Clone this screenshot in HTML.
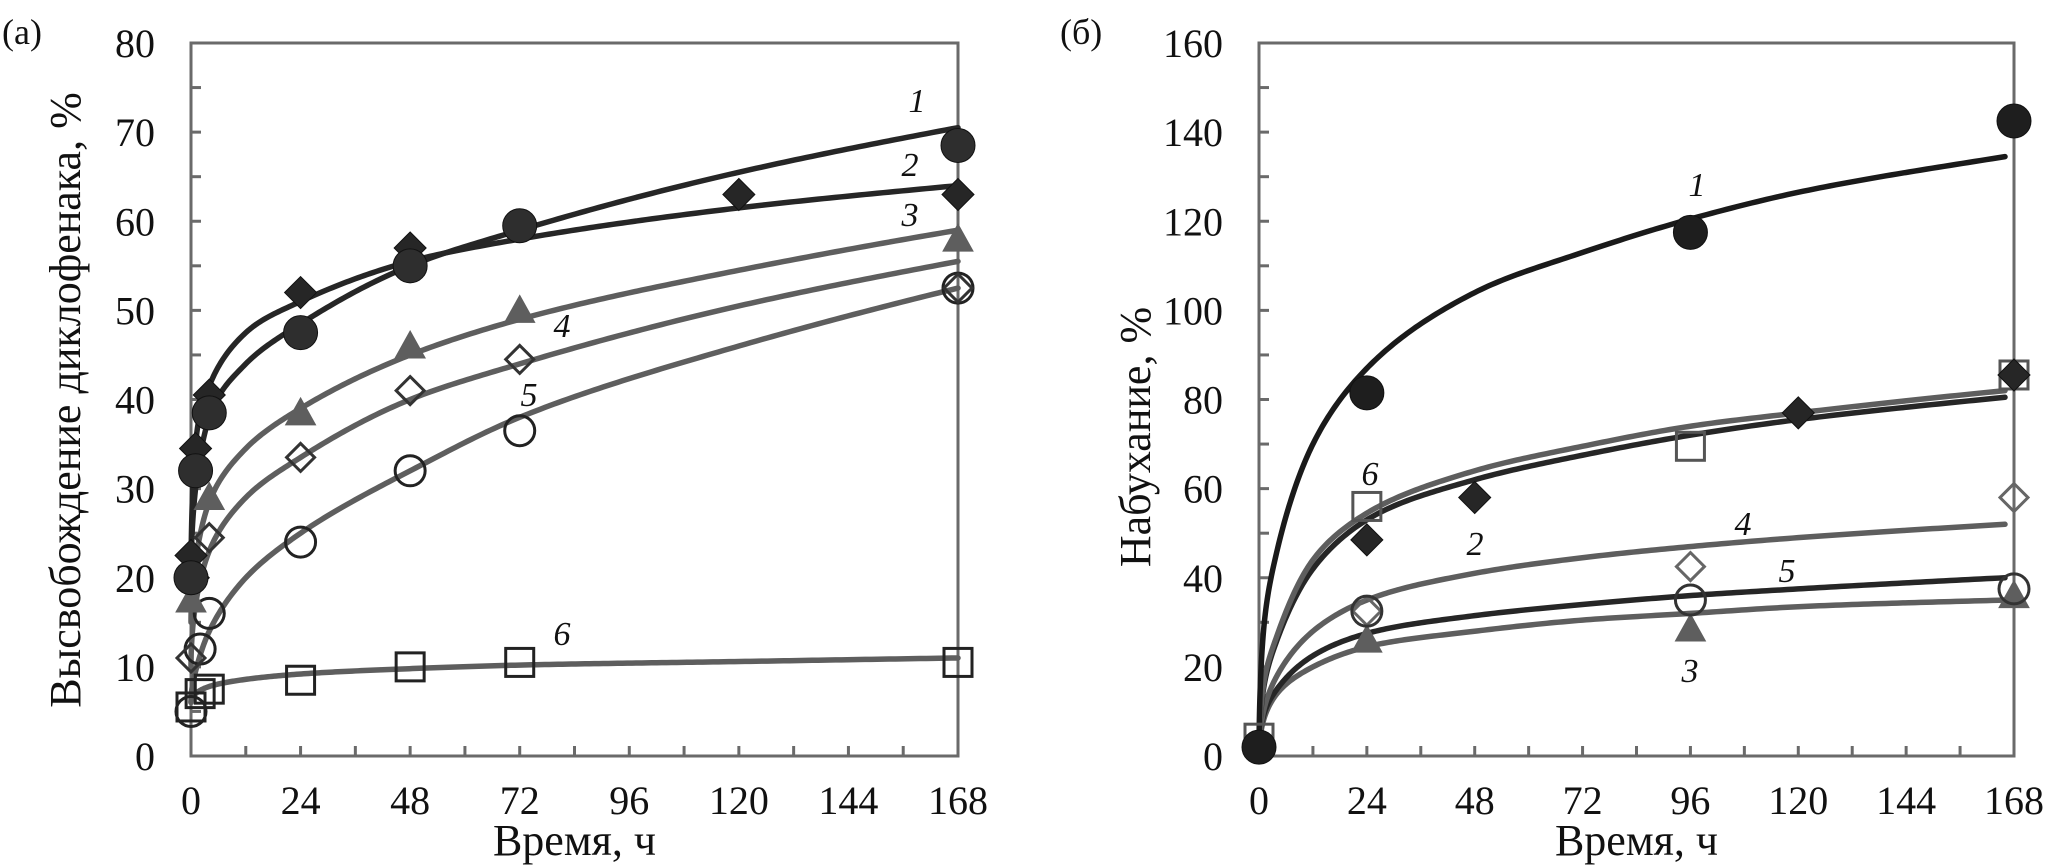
<!DOCTYPE html>
<html><head><meta charset="utf-8">
<style>
html,body{margin:0;padding:0;background:#fff;}
svg{display:block;font-family:"Liberation Serif","Times New Roman","DejaVu Serif",serif;}
text{font-family:"Liberation Serif","Times New Roman","DejaVu Serif",serif;}
</style></head>
<body>
<svg id="chart" width="2067" height="867" viewBox="0 0 2067 867" xmlns="http://www.w3.org/2000/svg"></svg>
<script>
// ---- Panel (a) data: release of diclofenac, % ----
const hoursA1 = [0, 1, 4, 24, 48, 72, 168];
const valuesA1 = [20, 32, 38.5, 47.5, 55, 59.5, 68.5];
const hoursA2 = [0, 0.5, 1, 4, 24, 48, 72, 120, 168];
const valuesA2 = [22.5, 20, 34.5, 40.5, 52, 57, 59.5, 63, 63];
const hoursA3 = [0, 4, 24, 48, 72, 168];
const valuesA3 = [17.5, 29, 38.5, 46, 50, 58];
const hoursA4 = [0, 4, 24, 48, 72, 168];
const valuesA4 = [11, 24.5, 33.5, 41, 44.5, 52.5];
const hoursA5 = [0, 2, 4, 24, 48, 72, 168];
const valuesA5 = [5, 12, 16, 24, 32, 36.5, 52.5];
const hoursA6 = [0, 2, 4, 24, 48, 72, 168];
const valuesA6 = [5.5, 7, 7.5, 8.5, 10, 10.5, 10.5];
// fitted curves (a)
const fitHoursA = [0, 1, 4, 12, 24, 48, 72, 120, 168];
const fitA1 = [20, 30, 38, 44, 48.5, 55, 59, 65.5, 70.5];
const fitA2 = [20, 35, 41.5, 47.5, 51, 55.5, 58, 61.5, 64];
const fitA3 = [15, 22, 28.5, 34.5, 39, 45, 49, 54.5, 59];
const fitA4 = [10, 17, 23, 29, 33.5, 40, 44, 50.5, 55.5];
const fitA5 = [6, 9.5, 14, 20, 25, 32, 38, 46, 52.5];
const fitA6 = [6, 7, 7.8, 8.6, 9.2, 9.8, 10.2, 10.6, 11];
// ---- Panel (b) data: swelling, % ----
const hoursB1 = [0, 24, 96, 168];
const valuesB1 = [2, 81.5, 117.5, 142.5];
const hoursB2 = [24, 48, 120, 168];
const valuesB2 = [48.5, 58, 77, 85.5];
const hoursB3 = [24, 96, 168];
const valuesB3 = [26, 28.5, 36];
const hoursB4 = [24, 96, 168];
const valuesB4 = [32.5, 42.5, 58];
const hoursB5 = [24, 96, 168];
const valuesB5 = [32.5, 35, 37.5];
const hoursB6 = [0, 24, 96, 168];
const valuesB6 = [4, 56, 69.5, 85.5];
const fitHoursB = [0, 1, 4, 12, 24, 48, 72, 96, 120, 166];
const fitB1 = [0, 28, 46, 70, 87, 104, 113, 120.5, 126.5, 134.5];
const fitB2 = [0, 15, 26, 42, 53, 62, 67.5, 72, 75.5, 80.5];
const fitB3 = [0, 8, 14, 20, 24.5, 28, 30.5, 32, 33.5, 35];
const fitB4 = [0, 10, 18, 28, 35, 41, 44.5, 47, 49, 52];
const fitB5 = [0, 9, 15, 22.5, 27.5, 31.5, 34, 36, 37.5, 40];
const fitB6 = [0, 16, 27, 44, 54.5, 64, 69.5, 74, 77, 82];
const xTickLabels = ["0", "24", "48", "72", "96", "120", "144", "168"];
const yTickLabelsA = ["0", "10", "20", "30", "40", "50", "60", "70", "80"];
const yTickLabelsB = ["0", "20", "40", "60", "80", "100", "120", "140", "160"];

const NS = "http://www.w3.org/2000/svg";
const svg = document.getElementById("chart");
const FONT = '"Liberation Serif", "Times New Roman", "DejaVu Serif", serif';
function mk(tag, attrs, parent) {
  const e = document.createElementNS(NS, tag);
  for (const k in attrs) e.setAttribute(k, attrs[k]);
  if (tag === "text") e.setAttribute("font-family", FONT);
  (parent || svg).appendChild(e);
  return e;
}
const DARK = "#262626", GRAY = "#5e5e5e", FRAME = "#6a6a6a";

function monotone(xs, ys) {
  const n = xs.length, d = [], m = new Array(n);
  for (let i = 0; i < n - 1; i++) d.push((ys[i + 1] - ys[i]) / (xs[i + 1] - xs[i]));
  m[0] = d[0]; m[n - 1] = d[n - 2];
  for (let i = 1; i < n - 1; i++) m[i] = (d[i - 1] * d[i] <= 0) ? 0 : (d[i - 1] + d[i]) / 2;
  for (let i = 0; i < n - 1; i++) {
    if (d[i] === 0) { m[i] = 0; m[i + 1] = 0; continue; }
    const a = m[i] / d[i], b = m[i + 1] / d[i], s = a * a + b * b;
    if (s > 9) { const t = 3 / Math.sqrt(s); m[i] = t * a * d[i]; m[i + 1] = t * b * d[i]; }
  }
  return function (x) {
    let i = 0;
    while (i < n - 2 && x > xs[i + 1]) i++;
    const h = xs[i + 1] - xs[i], t = (x - xs[i]) / h;
    const h00 = 2 * t * t * t - 3 * t * t + 1, h10 = t * t * t - 2 * t * t + t, h01 = -2 * t * t * t + 3 * t * t, h11 = t * t * t - t * t;
    return h00 * ys[i] + h10 * h * m[i] + h01 * ys[i + 1] + h11 * h * m[i + 1];
  };
}

function makePanel(cfg) {
  const g = mk("g", {});
  
  
  const xs = h => cfg.x0 + (cfg.x1 - cfg.x0) * h / 168;
  const ys = v => cfg.y0 - (cfg.y0 - cfg.y1) * v / cfg.ymax;
  const fr = mk("rect", {x: cfg.x0, y: cfg.y1, width: cfg.x1 - cfg.x0, height: cfg.y0 - cfg.y1, fill: "none", stroke: FRAME, "stroke-width": 3}, g);
  
  
  for (let h = 12; h < 168; h += 12) {
    mk("line", {x1: xs(h), x2: xs(h), y1: cfg.y0, y2: cfg.y0 - 10, stroke: FRAME, "stroke-width": 3}, g);
  }
  xTickLabels.forEach((lab, i) => {
    const t = mk("text", {x: xs(i * 24), y: cfg.y0 + 58, "font-size": 40, "text-anchor": "middle", fill: "#111"}, g);
    t.textContent = lab;
    
    
  });
  const step = cfg.ymax / 16;
  for (let v = step; v < cfg.ymax; v += step) {
    mk("line", {x1: cfg.x0, x2: cfg.x0 + 10, y1: ys(v), y2: ys(v), stroke: FRAME, "stroke-width": 3}, g);
  }
  cfg.yLabels.forEach((lab, i) => {
    const t = mk("text", {x: cfg.x0 - 36, y: ys(i * cfg.ymax / 8) + 14, "font-size": 40, "text-anchor": "end", fill: "#111"}, g);
    t.textContent = lab;
    
    
  });
  const xt = mk("text", {x: (cfg.x0 + cfg.x1) / 2, y: 855, "font-size": 44, "text-anchor": "middle", fill: "#111"}, g);
  xt.textContent = "Время, ч";
  
  
  const yt = mk("text", {x: 0, y: 0, "font-size": 44, "text-anchor": "middle", fill: "#111", transform: `translate(${cfg.ytx},${cfg.yty}) rotate(-90)`}, g);
  yt.textContent = cfg.ytitle;
  
  
  const pl = mk("text", {x: cfg.plx, y: 44, "font-size": 36, fill: "#111"}, g);
  pl.textContent = cfg.panel;
  
  

  cfg.curves.forEach(c => {
    const u = c.hours.map(h => Math.sqrt(h));
    const f = monotone(u, c.vals);
    const uMax = u[u.length - 1];
    let d = "";
    const N = 240;
    for (let k = 0; k <= N; k++) {
      const uu = uMax * k / N;
      const px = xs(uu * uu), py = ys(f(uu));
      d += (k === 0 ? "M" : "L") + px.toFixed(2) + "," + py.toFixed(2);
    }
    const p = mk("path", {d: d, fill: "none", stroke: c.color, "stroke-width": 5.5, "stroke-linecap": "round", "stroke-linejoin": "round"}, g);
    
    
  });
  cfg.series.forEach(s => {
    s.hours.forEach((h, i) => {
      const cx = xs(h), cy = ys(s.vals[i]);
      let m;
      const fill = s.filled ? s.color : "none";
      const sw = s.filled ? 1 : 3;
      if (s.shape === "circle") m = mk("circle", {cx: cx, cy: cy, r: s.filled ? 17 : 15, fill: fill, stroke: s.filled ? "#111" : s.color, "stroke-width": sw}, g);
      else if (s.shape === "diamond") { const r = s.filled ? 16 : 14; m = mk("polygon", {points: `${cx},${cy - r} ${cx + r},${cy} ${cx},${cy + r} ${cx - r},${cy}`, fill: fill, stroke: s.filled ? "#111" : s.color, "stroke-width": sw}, g); }
      else if (s.shape === "triangle") { m = mk("polygon", {points: `${cx},${cy - 15} ${cx + 15},${cy + 12} ${cx - 15},${cy + 12}`, fill: fill, stroke: s.color, "stroke-width": 1}, g); }
      else { m = mk("rect", {x: cx - 14, y: cy - 14, width: 28, height: 28, fill: "none", stroke: s.color, "stroke-width": 3}, g); }
      
      
    });
  });
  cfg.labels.forEach(l => {
    const t = mk("text", {x: l[1], y: l[2], "font-size": 34, "font-style": "italic", "text-anchor": "middle", fill: "#111"}, g);
    t.textContent = l[0];
    
    
  });
}

makePanel({
  name: "panel-a", panel: "(a)", plx: 2, x0: 191, x1: 958, y0: 756, y1: 43, ymax: 80,
  yLabels: yTickLabelsA, ytitle: "Высвобождение диклофенака, %", ytx: 80, yty: 400,
  curves: [
    {id: "6", hours: fitHoursA, vals: fitA6, color: GRAY},
    {id: "5", hours: fitHoursA, vals: fitA5, color: GRAY},
    {id: "4", hours: fitHoursA, vals: fitA4, color: GRAY},
    {id: "3", hours: fitHoursA, vals: fitA3, color: GRAY},
    {id: "2", hours: fitHoursA, vals: fitA2, color: DARK},
    {id: "1", hours: fitHoursA, vals: fitA1, color: DARK}
  ],
  series: [
    {id: "6", hours: hoursA6, vals: valuesA6, shape: "square", color: "#222", filled: false},
    {id: "5", hours: hoursA5, vals: valuesA5, shape: "circle", color: "#222", filled: false},
    {id: "4", hours: hoursA4, vals: valuesA4, shape: "diamond", color: "#333", filled: false},
    {id: "3", hours: hoursA3, vals: valuesA3, shape: "triangle", color: GRAY, filled: true},
    {id: "2", hours: hoursA2, vals: valuesA2, shape: "diamond", color: DARK, filled: true},
    {id: "1", hours: hoursA1, vals: valuesA1, shape: "circle", color: "#2e2e2e", filled: true}
  ],
  labels: [["1", 917, 112], ["2", 910, 176], ["3", 910, 226], ["4", 562, 337], ["5", 529, 406], ["6", 562, 645]]
});

makePanel({
  name: "panel-b", panel: "(б)", plx: 1060, x0: 1259, x1: 2014, y0: 756, y1: 43, ymax: 160,
  yLabels: yTickLabelsB, ytitle: "Набухание, %", ytx: 1150, yty: 437,
  curves: [
    {id: "3", hours: fitHoursB, vals: fitB3, color: GRAY},
    {id: "5", hours: fitHoursB, vals: fitB5, color: DARK},
    {id: "4", hours: fitHoursB, vals: fitB4, color: GRAY},
    {id: "2", hours: fitHoursB, vals: fitB2, color: DARK},
    {id: "6", hours: fitHoursB, vals: fitB6, color: GRAY},
    {id: "1", hours: fitHoursB, vals: fitB1, color: "#1a1a1a"}
  ],
  series: [
    {id: "6", hours: hoursB6, vals: valuesB6, shape: "square", color: "#555", filled: false},
    {id: "3", hours: hoursB3, vals: valuesB3, shape: "triangle", color: GRAY, filled: true},
    {id: "4", hours: hoursB4, vals: valuesB4, shape: "diamond", color: "#666", filled: false},
    {id: "5", hours: hoursB5, vals: valuesB5, shape: "circle", color: "#333", filled: false},
    {id: "2", hours: hoursB2, vals: valuesB2, shape: "diamond", color: DARK, filled: true},
    {id: "1", hours: hoursB1, vals: valuesB1, shape: "circle", color: "#1e1e1e", filled: true}
  ],
  labels: [["1", 1697, 196], ["6", 1370, 485], ["2", 1475, 555], ["4", 1743, 535], ["5", 1787, 582], ["3", 1690, 682]]
});
</script>
</body></html>
